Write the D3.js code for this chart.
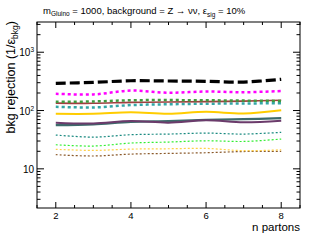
<!DOCTYPE html>
<html><head><meta charset="utf-8">
<script src="https://cdn.jsdelivr.net/npm/d3@7"></script>
<style>body{margin:0;background:#fff}svg{display:block;font-family:"Liberation Sans",Arial,sans-serif}</style>
</head><body><svg id="c" width="310" height="240"></svg>
<script>
const nPartons = [2,3,4,5,6,7,8];
const xTickLabels = [2,4,6,8];
const yTickLabels = [10,100,1000];
const sBlackDashed  = [293,304,324,321,317,308,343];
const sMagenta      = [194,189,220,202,212,206,216];
const sRed          = [134,133,138,140,142,145,150];
const sGreenDot     = [141,143,150,151,150,148,146];
const sTealDot      = [116,113,124,128,131,132,134];
const sGold         = [88,88,93,88,95,89,101];
const sPurple       = [62,60,66,62,68,63,67];
const sSlate        = [56,58,64,66,69,71,74];
const sTealThin     = [38,35,38.5,39.5,41,39.5,42.3];
const sLimeThin     = [25.9,24.6,27.7,28.8,30.3,29.5,32.4];
const sYellowThin   = [21.6,20.7,21.8,22.1,22.4,20.5,21.2];
const sBrownThin    = [17.5,16.6,17.9,18.4,18.9,19.8,20.0];

const series = [
  {v:sBrownThin,  c:"#8b5a2b", w:1.2, d:"2,2"},
  {v:sYellowThin, c:"#ffd04a", w:1.2, d:"2,2"},
  {v:sLimeThin,   c:"#33ee33", w:1.2, d:"2,2"},
  {v:sTealThin,   c:"#1a8a80", w:1.2, d:"2,2"},
  {v:sSlate,      c:"#3d6b6b", w:2.2, d:null},
  {v:sPurple,     c:"#6b3b6b", w:2.0, d:null},
  {v:sGold,       c:"#ffcc00", w:2.0, d:null},
  {v:sTealDot,    c:"#33a6a6", w:2.5, d:"3,3"},
  {v:sRed,        c:"#a04040", w:1.6, d:null},
  {v:sGreenDot,   c:"#40993f", w:2.5, d:"3,3"},
  {v:sMagenta,    c:"#ff00ff", w:2.5, d:"3,3"},
  {v:sBlackDashed,c:"#000000", w:3.2, d:"10,4"}
];

const L=37,R=300,T=22,B=208;
const x = d3.scaleLinear().domain([1.5,8.5]).range([L,R]);
const y = d3.scaleLog().domain([2.13,3300]).range([B,T]);
const svg = d3.select("#c");

svg.append("clipPath").attr("id","clip").append("rect").attr("x",L).attr("y",T).attr("width",R-L).attr("height",B-T);
const g = svg.append("g").attr("clip-path","url(#clip)");
const line = d3.line().x((d,i)=>x(nPartons[i])).y(d=>y(d)).curve(d3.curveCatmullRom);
series.forEach(s=>{
  g.append("path").attr("d",line(s.v)).attr("fill","none").attr("stroke",s.c)
   .attr("stroke-width",s.w).attr("stroke-dasharray",s.d);
});

// frame
svg.append("rect").attr("x",L).attr("y",T).attr("width",R-L).attr("height",B-T)
  .attr("fill","none").attr("stroke","#000").attr("stroke-width",1);

// x ticks
const xMinor = d3.range(1.5,8.51,0.5).filter(v=>!xTickLabels.includes(v));
const tk = svg.append("g").attr("stroke","#000").attr("stroke-width",1);
xTickLabels.forEach(v=>{
  tk.append("line").attr("x1",x(v)).attr("x2",x(v)).attr("y1",B).attr("y2",B-6);
  tk.append("line").attr("x1",x(v)).attr("x2",x(v)).attr("y1",T).attr("y2",T+6);
});
xMinor.forEach(v=>{
  tk.append("line").attr("x1",x(v)).attr("x2",x(v)).attr("y1",B).attr("y2",B-3);
  tk.append("line").attr("x1",x(v)).attr("x2",x(v)).attr("y1",T).attr("y2",T+3);
});
// y ticks
const yMinor=[];
[1,10,100,1000].forEach(dec=>{for(let k=2;k<=9;k++){const v=k*dec; if(v>=2.13&&v<=3300) yMinor.push(v);}});
yTickLabels.forEach(v=>{
  tk.append("line").attr("y1",y(v)).attr("y2",y(v)).attr("x1",L).attr("x2",L+7);
  tk.append("line").attr("y1",y(v)).attr("y2",y(v)).attr("x1",R).attr("x2",R-7);
});
yMinor.forEach(v=>{
  tk.append("line").attr("y1",y(v)).attr("y2",y(v)).attr("x1",L).attr("x2",L+3.5);
  tk.append("line").attr("y1",y(v)).attr("y2",y(v)).attr("x1",R).attr("x2",R-3.5);
});

// x labels
xTickLabels.forEach(v=>{
  svg.append("text").attr("x",x(v)).attr("y",218.5).attr("text-anchor","middle")
    .attr("font-size",9.5).text(v);
});
// y labels
yTickLabels.forEach(v=>{
  const e=Math.round(Math.log10(v));
  const t=svg.append("text").attr("x",34).attr("y",y(v)+4).attr("text-anchor","end").attr("font-size",10);
  if(e===1){ t.text("10"); }
  else { t.append("tspan").text("10"); t.append("tspan").attr("font-size",6.5).attr("dy",-4).text(e); }
});

// axis titles
svg.append("text").attr("x",300).attr("y",231).attr("text-anchor","end").attr("font-size",11.5).text("n partons");
const yt = svg.append("text").attr("transform","translate(15,21) rotate(-90)").attr("text-anchor","end").attr("font-size",12.5);
yt.append("tspan").text("bkg rejection (1/ε");
yt.append("tspan").attr("font-size",8.5).attr("dy",3).text("bkg");
yt.append("tspan").attr("dy",-3).text(")");

// title
const tt = svg.append("text").attr("x",43).attr("y",14).attr("font-size",9.5);
tt.append("tspan").text("m");
tt.append("tspan").attr("font-size",6.5).attr("dy",2).text("Gluino");
tt.append("tspan").attr("dy",-2).text(" = 1000, background = Z \u2192 \u03bd\u03bd, \u03b5");
tt.append("tspan").attr("font-size",6.5).attr("dy",3).text("sig");
tt.append("tspan").attr("dy",-3).text(" = 10%");
</script></body></html>
